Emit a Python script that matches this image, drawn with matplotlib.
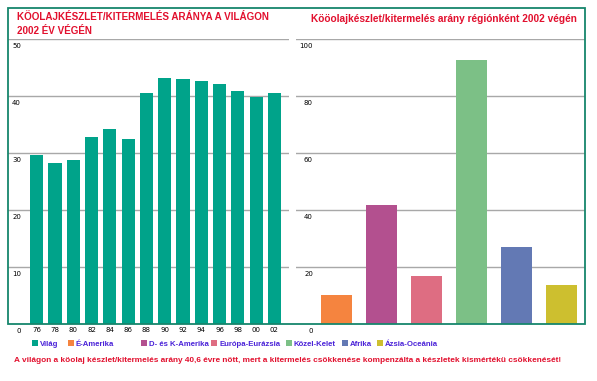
import matplotlib
matplotlib.use("Agg")
import matplotlib.pyplot as plt
from matplotlib.patches import Rectangle

plt.rcParams['font.family'] = ['Liberation Sans', 'DejaVu Sans']

# data
years = ["76", "78", "80", "82", "84", "86", "88", "90", "92", "94", "96", "98", "00", "02"]
world_ratio = [29.6, 28.2, 28.8, 32.8, 34.2, 32.5, 40.5, 43.2, 43.0, 42.6, 42.1, 40.9, 39.8, 40.6]

regions = ["É-Amerika", "D- és K-Amerika", "Európa-Eurázsia", "Közel-Kelet", "Afrika", "Ázsia-Oceánia"]
region_ratio = [10.2, 41.8, 16.8, 92.6, 27.0, 13.7]

left_yticks = [0, 10, 20, 30, 40, 50]
right_yticks = [0, 20, 40, 60, 80, 100]

# styles
W, H = 597, 381
teal = "#00A38A"
region_colors = ["#F5843F", "#B3508F", "#DE6D82", "#7CC086", "#6379B4", "#CDBF2F"]
frame_green = "#16866C"
grid_gray = "#A8A8A8"
title_red = "#E2102E"
legend_blue = "#4A22D8"


def px(x0, y0, x1, y1):
    # pixel box (top-left origin) -> figure fraction rect
    return [x0 / W, 1 - y1 / H, (x1 - x0) / W, (y1 - y0) / H]


fig = plt.figure(figsize=(W / 100, H / 100), dpi=100)
fig.patch.set_facecolor("white")

ax1 = fig.add_axes(px(8, 39, 289, 324))
ax2 = fig.add_axes(px(296, 39, 585, 324))

# left chart
ax1.bar(range(len(years)), world_ratio, width=0.72, color=teal, zorder=3)
ax1.set_xlim(-1.57, 13.8)
ax1.set_ylim(0, 50)
ax1.set_xticks(range(len(years)), years, fontsize=5, family="DejaVu Sans")

# right chart
ax2.bar(range(len(regions)), region_ratio, width=0.69, color=region_colors, zorder=3)
ax2.set_xlim(-0.89, 5.53)
ax2.set_ylim(0, 100)
ax2.set_xticks([])

for ax, ticks, off in [(ax1, left_yticks, 13), (ax2, right_yticks, 17)]:
    ax.set_yticks([])
    for s in ax.spines.values():
        s.set_visible(False)
    ax.tick_params(axis="x", length=0, pad=2)
    for v in ticks:
        if v > 0:
            ax.axhline(v, color=grid_gray, lw=1, zorder=1)
        ax.annotate(str(v), xy=(0, v), xycoords=("axes fraction", "data"),
                    xytext=(off, -7), textcoords="offset pixels",
                    ha="right", va="center", fontsize=5, family="DejaVu Sans",
                    annotation_clip=False)

# outer green frame
fig.patches.append(Rectangle((8 / W, 1 - 324 / H), 577 / W, 316 / H, transform=fig.transFigure,
                             fill=False, edgecolor=frame_green, lw=1.3, zorder=5))

# titles
fig.text(17 / W, 1 - 17 / H, "KÖOLAJKÉSZLET/KITERMELÉS ARÁNYA A VILÁGON", color=title_red,
         fontsize=7.1, fontweight="bold", va="center", ha="left")
fig.text(17 / W, 1 - 31 / H, "2002 ÉV VÉGÉN", color=title_red,
         fontsize=7.1, fontweight="bold", va="center", ha="left")
fig.text(444 / W, 1 - 19 / H, "Kööolajkészlet/kitermelés arány régiónként 2002 végén", color=title_red,
         fontsize=7.25, fontweight="bold", va="center", ha="center")

# legend
legend_names = ["Világ"] + regions
legend_colors = [teal] + region_colors
legend_x = [32, 68, 141, 211, 286, 342, 377]
for name, c, x in zip(legend_names, legend_colors, legend_x):
    fig.patches.append(Rectangle((x / W, 1 - 346 / H), 6 / W, 6 / H, transform=fig.transFigure,
                                 facecolor=c, edgecolor="none"))
    fig.text((x + 8) / W, 1 - 344 / H, name, color=legend_blue, fontsize=5.6,
             fontweight="bold", va="center", ha="left")

fig.text(288 / W, 1 - 360 / H,
         "A világon a köolaj készlet/kitermelés arány 40,6 évre nött, mert a kitermelés csökkenése "
         "kompenzálta a készletek kismértékü csökkenését!",
         color=title_red, fontsize=5.95, fontweight="bold", va="center", ha="center")

fig.savefig("out.png", dpi=100)
